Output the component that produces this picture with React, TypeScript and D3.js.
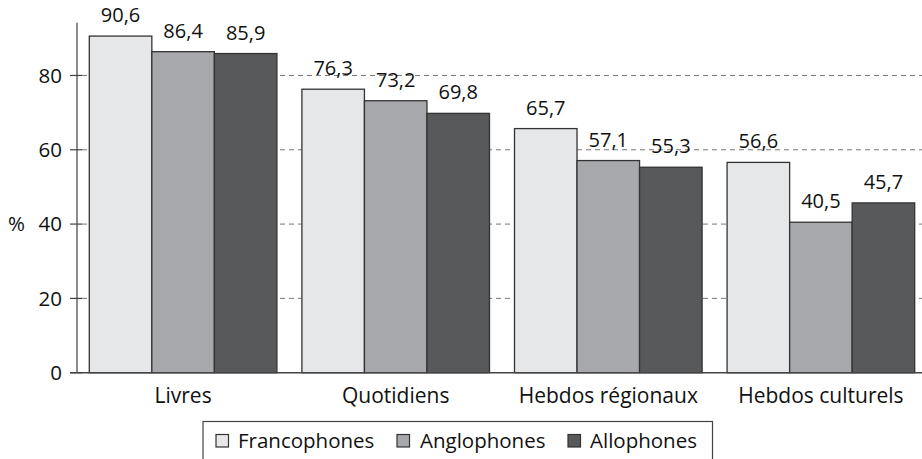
import React from "react";
import * as d3 from "d3";

const categories = ["Livres", "Quotidiens", "Hebdos régionaux", "Hebdos culturels"];
const seriesNames = ["Francophones", "Anglophones", "Allophones"];
const francophones = [90.6, 76.3, 65.7, 56.6];
const anglophones = [86.4, 73.2, 57.1, 40.5];
const allophones = [85.9, 69.8, 55.3, 45.7];
const yTicks = [0, 20, 40, 60, 80];
const seriesColors = ["#e6e7e9", "#a7a8ab", "#58595b"];

const W = 922;
const H = 459;
const FONT = "'Open Sans', 'Noto Sans', sans-serif";

export default function App() {
  const series = [francophones, anglophones, allophones];
  const y = d3.scaleLinear().domain([0, 94.2]).range([372.7, 22.7]);
  const x0 = d3
    .scaleBand<string>()
    .domain(categories)
    .range([78, 926])
    .paddingInner(0.1176)
    .paddingOuter(0.0532);
  const x1 = d3
    .scaleBand<string>()
    .domain(seriesNames)
    .range([0, x0.bandwidth()]);
  const fmt = (v: number) => v.toFixed(1).replace(".", ",");

  const legendX = 203;
  const legendY = 421.5;
  const legendItems = [
    { sx: 216, tx: 238 },
    { sx: 397, tx: 420 },
    { sx: 568, tx: 590 },
  ];

  return (
    <svg
      width={W}
      height={H}
      style={{ position: "absolute", left: 0, top: 0, background: "#fff" }}
      fontFamily={FONT}
    >
      {/* gridlines */}
      {yTicks
        .filter((t) => t > 0)
        .map((t) => (
          <line
            key={"g" + t}
            x1={82}
            x2={W}
            y1={y(t)}
            y2={y(t)}
            stroke="#777"
            strokeWidth={1}
            strokeDasharray="5,4"
          />
        ))}
      {/* bars */}
      {categories.map((c, ci) => (
        <g key={c} transform={`translate(${x0(c)},0)`}>
          {seriesNames.map((s, si) => {
            const v = series[si][ci];
            return (
              <rect
                key={s}
                x={x1(s)}
                y={y(v)}
                width={x1.bandwidth()}
                height={y(0) - y(v)}
                fill={seriesColors[si]}
                stroke="#333"
                strokeWidth={1.3}
              />
            );
          })}
          {seriesNames.map((s, si) => {
            const v = series[si][ci];
            return (
              <text
                key={"l" + s}
                x={(x1(s) as number) + x1.bandwidth() / 2}
                y={y(v) - 14}
                textAnchor="middle"
                fontSize={20}
                fill="#111"
              >
                {fmt(v)}
              </text>
            );
          })}
          <text
            x={x0.bandwidth() / 2}
            y={403}
            textAnchor="middle"
            fontSize={21}
            fill="#111"
          >
            {c}
          </text>
        </g>
      ))}
      {/* baseline */}
      <line x1={70} x2={W} y1={y(0)} y2={y(0)} stroke="#444" strokeWidth={1.5} />
      {/* y axis */}
      <line x1={77} x2={77} y1={22.7} y2={y(0)} stroke="#666" strokeWidth={1.5} />
      {yTicks.map((t) => (
        <g key={"t" + t}>
          <line x1={70} x2={82} y1={y(t)} y2={y(t)} stroke="#444" strokeWidth={1.2} />
          <text
            x={62}
            y={y(t)}
            dy="0.36em"
            textAnchor="end"
            fontSize={20.5}
            fill="#111"
          >
            {t}
          </text>
        </g>
      ))}
      <text x={8} y={y(40)} dy="0.36em" fontSize={20.5} fill="#111">
        %
      </text>
      {/* legend */}
      <rect
        x={legendX}
        y={legendY}
        width={509.5}
        height={60}
        fill="none"
        stroke="#444"
        strokeWidth={1.2}
      />
      {seriesNames.map((s, i) => (
        <g key={"lg" + s}>
          <rect
            x={legendItems[i].sx}
            y={434.5}
            width={12.5}
            height={12.5}
            fill={seriesColors[i]}
            stroke="#333"
            strokeWidth={1.2}
          />
          <text x={legendItems[i].tx} y={447.5} fontSize={20.5} fill="#111">
            {s}
          </text>
        </g>
      ))}
    </svg>
  );
}
